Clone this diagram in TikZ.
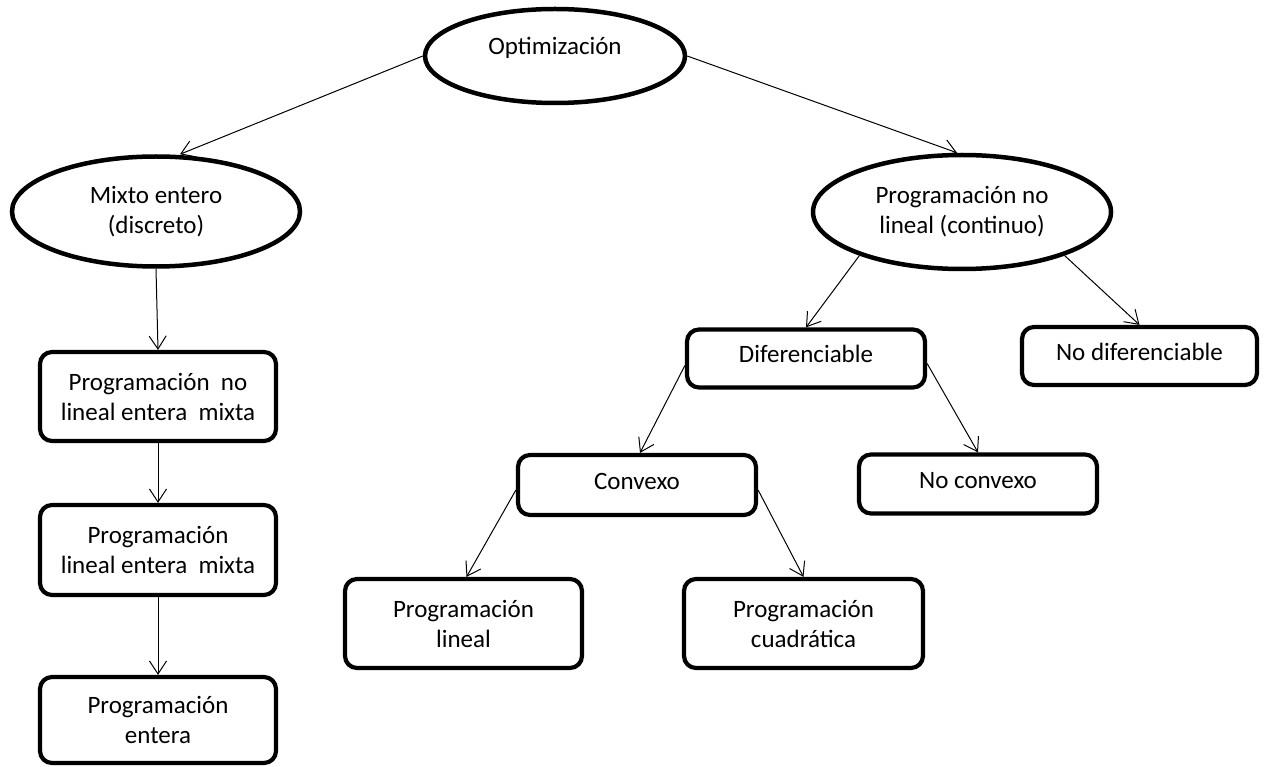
\documentclass[tikz,border=0pt]{standalone}
\usepackage{fontspec}
\setmainfont{Carlito}
\usetikzlibrary{shapes.geometric,arrows.meta}
\begin{document}
\begin{tikzpicture}[x=1pt,y=-1pt,
  every node/.style={font=\fontsize{25}{30}\selectfont, align=center, inner sep=0pt},
  oval/.style={draw, ellipse, line width=4.5pt},
  box/.style={draw, rectangle, rounded corners=12pt, line width=4.2pt},
  one/.style={text height=14pt, text depth=6pt},
  arr/.style={line width=1pt, -{Straight Barb[length=13pt,width=17pt]}}
]
\useasboundingbox (0,0) rectangle (1264,767);
\fill[white] (0,0) rectangle (1264,767);

\node[oval, minimum width=260pt, minimum height=94pt, text height=12pt, text depth=14pt] (opt) at (555,56) {Optimización};
\node[oval, minimum width=288pt, minimum height=110pt] (mix) at (156,211.5) {Mixto entero\\(discreto)};
\node[oval, minimum width=298pt, minimum height=114pt] (pnl) at (962,212) {Programación no\\lineal (continuo)};

\node[box, minimum width=236pt, minimum height=89pt] (b1) at (158,396.5) {Programación~~no\\lineal entera~~mixta};
\node[box, minimum width=236pt, minimum height=90pt] (b2) at (158,550) {Programación\\lineal entera~~mixta};
\node[box, minimum width=236pt, minimum height=86pt] (b3) at (158,720) {Programación\\entera};

\node[box, one, minimum width=238pt, minimum height=58pt] (dif) at (806,358.5) {Diferenciable};
\node[box, one, minimum width=235pt, minimum height=58pt] (nodif) at (1139.5,356) {No diferenciable};
\node[box, one, minimum width=238pt, minimum height=60pt] (conv) at (637,485) {Convexo};
\node[box, one, minimum width=238pt, minimum height=59pt] (noconv) at (978,484) {No convexo};
\node[box, minimum width=237pt, minimum height=89pt] (pl) at (463.5,623.5) {Programación\\lineal};
\node[box, minimum width=239pt, minimum height=89pt] (pc) at (803.5,623.5) {Programación\\cuadrática};

\draw[arr] (opt.west) -- ([xshift=24pt]mix.north);
\draw[arr] (opt.east) -- ([xshift=-5pt]pnl.north);
\draw[arr] (mix.south) -- (b1.north);
\draw[arr] (b1.south) -- (b2.north);
\draw[arr] (b2.south) -- (b3.north);
\draw[arr] (pnl.203) -- (dif.north);
\draw[arr] (pnl.337) -- (nodif.north);
\draw[arr] ([yshift=-7pt]dif.west) -- ([xshift=3pt]conv.north);
\draw[arr] ([yshift=-5pt]dif.east) -- (noconv.north);
\draw[arr] ([yshift=-5pt]conv.west) -- ([xshift=3pt]pl.north);
\draw[arr] ([yshift=-5pt]conv.east) -- (pc.north);
\end{tikzpicture}
\end{document}
